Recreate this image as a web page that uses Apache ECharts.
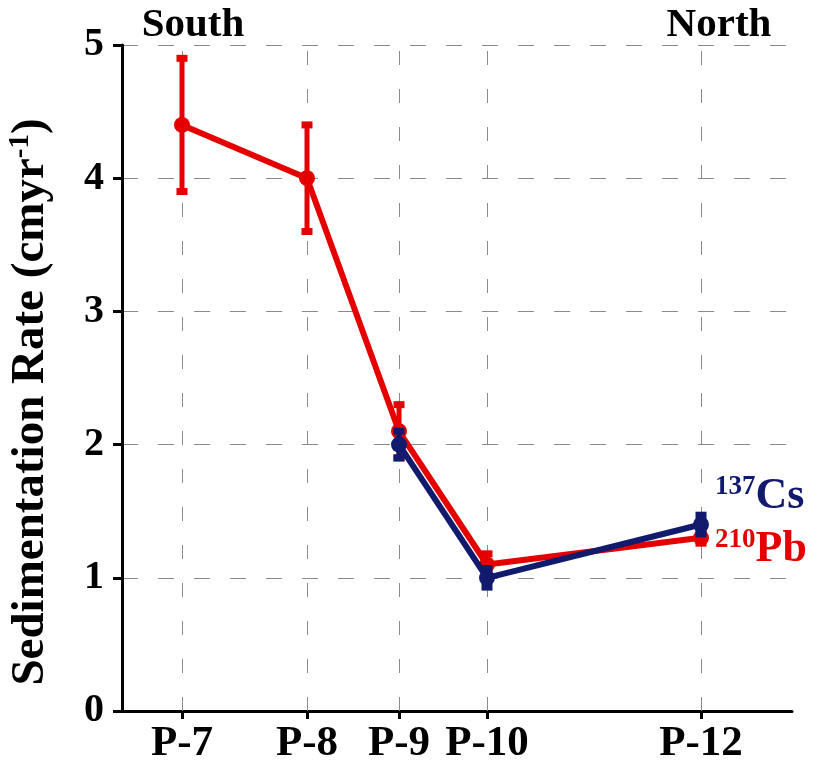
<!DOCTYPE html>
<html>
<head>
<meta charset="utf-8">
<script src="https://cdn.jsdelivr.net/npm/echarts@6/dist/echarts.min.js"></script>
<style>html,body{margin:0;padding:0;background:#fff;}#c{width:820px;height:767px;}</style>
</head>
<body>
<div id="c"></div>
<script>
// ---- data ----
const stations = ['P-7', 'P-8', 'P-9', 'P-10', 'P-12'];
const stationPos = [6.0, 18.5, 27.7, 36.5, 57.9];      // relative distance along transect
const pbRate = [4.4, 4.0, 2.1, 1.1, 1.3];              // 210Pb sedimentation rate (cm/yr)
const pbErr  = [0.5, 0.4, 0.2, 0.08, 0.04];
const csStations = ['P-9', 'P-10', 'P-12'];
const csRate = [2.0, 1.0, 1.4];                        // 137Cs sedimentation rate (cm/yr)
const csErr  = [0.1, 0.07, 0.07];
const yTicks = [0, 1, 2, 3, 4, 5];

const RED = '#e50000';
const NAVY = '#111a6c';
const SERIF = '"Liberation Serif", "Times New Roman", serif';

const posOf = s => stationPos[stations.indexOf(s)];

function lineData(names, vals, labelText, rich, offset) {
  return names.map((s, i) => {
    const item = { value: [posOf(s), vals[i]] };
    if (i === names.length - 1) {
      item.label = { show: true, position: 'right', distance: 6, offset: offset, formatter: labelText, rich: rich };
    }
    return item;
  });
}
function errData(names, vals, errs) {
  return names.map((s, i) => [posOf(s), vals[i] - errs[i], vals[i] + errs[i]]);
}
function errRender(color) {
  return function (params, api) {
    const x = api.value(0);
    const lo = api.coord([x, api.value(1)]);
    const hi = api.coord([x, api.value(2)]);
    const bw = 5, cw = 11, ch = 7;
    const st = { fill: color };
    return {
      type: 'group',
      children: [
        { type: 'rect', shape: { x: lo[0] - bw / 2, y: hi[1], width: bw, height: lo[1] - hi[1] }, style: st },
        { type: 'rect', shape: { x: hi[0] - cw / 2, y: hi[1] - ch / 2, width: cw, height: ch }, style: st },
        { type: 'rect', shape: { x: lo[0] - cw / 2, y: lo[1] - ch / 2, width: cw, height: ch }, style: st }
      ]
    };
  };
}

const chart = echarts.init(document.getElementById('c'), null, { renderer: 'canvas' });
chart.setOption({
  animation: false,
  backgroundColor: '#fff',
  grid: { left: 122, right: 28, top: 45, bottom: 56, containLabel: false, outerBoundsMode: 'none' },
  graphic: [
    { type: 'text', x: 193, y: 25, style: { text: 'South', font: 'bold 41px ' + SERIF, fill: '#000', textAlign: 'center', textVerticalAlign: 'middle' } },
    { type: 'text', x: 719, y: 25, style: { text: 'North', font: 'bold 41px ' + SERIF, fill: '#000', textAlign: 'center', textVerticalAlign: 'middle' } }
  ],
  xAxis: {
    type: 'value', min: 0, max: 67,
    axisLine: { show: true, lineStyle: { color: '#000', width: 3 } },
    axisTick: { show: true, customValues: stationPos, length: 8, lineStyle: { color: '#000', width: 3 } },
    axisLabel: {
      customValues: stationPos, margin: 11,
      formatter: v => stations[stationPos.indexOf(v)] || '',
      color: '#000', fontFamily: SERIF, fontWeight: 'bold', fontSize: 43
    },
    splitLine: { show: false }
  },
  yAxis: {
    type: 'value', min: yTicks[0], max: yTicks[yTicks.length - 1], interval: 1,
    name: '{a|Sedimentation Rate (cmyr}{b|-1}{a|)}',
    nameLocation: 'middle', nameGap: 66, nameRotate: 90,
    nameTextStyle: {
      padding: [0, 48, 0, 0],
      rich: {
        a: { fontFamily: SERIF, fontWeight: 'bold', fontSize: 47, color: '#000', lineHeight: 50 },
        b: { fontFamily: SERIF, fontWeight: 'bold', fontSize: 29, color: '#000', lineHeight: 30, verticalAlign: 'top' }
      }
    },
    axisLine: { show: true, lineStyle: { color: '#000', width: 3 } },
    axisTick: { show: true, length: 9, lineStyle: { color: '#000', width: 3 } },
    axisLabel: { margin: 18, color: '#000', fontFamily: SERIF, fontWeight: 'bold', fontSize: 40 },
    splitLine: { show: true, lineStyle: { color: '#8a8a8a', width: 1, type: [16, 20] } }
  },
  series: [
    {
      type: 'line', name: 'grid', data: [], silent: true, z: 1,
      markLine: {
        silent: true, symbol: 'none', label: { show: false }, z: 1,
        lineStyle: { color: '#8a8a8a', width: 1, type: [14, 24] },
        data: stationPos.map(x => ({ xAxis: x }))
      }
    },
    {
      type: 'custom', name: 'pbErr', renderItem: errRender(RED),
      data: errData(stations, pbRate, pbErr), z: 3
    },
    {
      type: 'line', name: '210Pb',
      data: lineData(stations, pbRate, '{s|210}{m|Pb}', {
        s: { fontFamily: SERIF, fontWeight: 'bold', fontSize: 27, color: RED, lineHeight: 28, verticalAlign: 'top' },
        m: { fontFamily: SERIF, fontWeight: 'bold', fontSize: 44, color: RED, lineHeight: 46 }
      }, [0, 12]),
      symbol: 'circle', symbolSize: 16,
      itemStyle: { color: RED },
      lineStyle: { color: RED, width: 6 }, z: 4
    },
    {
      type: 'custom', name: 'csErr', renderItem: errRender(NAVY),
      data: errData(csStations, csRate, csErr), z: 5
    },
    {
      type: 'line', name: '137Cs',
      data: lineData(csStations, csRate, '{s|137}{m|Cs}', {
        s: { fontFamily: SERIF, fontWeight: 'bold', fontSize: 27, color: NAVY, lineHeight: 28, verticalAlign: 'top' },
        m: { fontFamily: SERIF, fontWeight: 'bold', fontSize: 44, color: NAVY, lineHeight: 46 }
      }, [0, -28]),
      symbol: 'circle', symbolSize: 16,
      itemStyle: { color: NAVY },
      lineStyle: { color: NAVY, width: 6 }, z: 6
    }
  ]
});
</script>
</body>
</html>
